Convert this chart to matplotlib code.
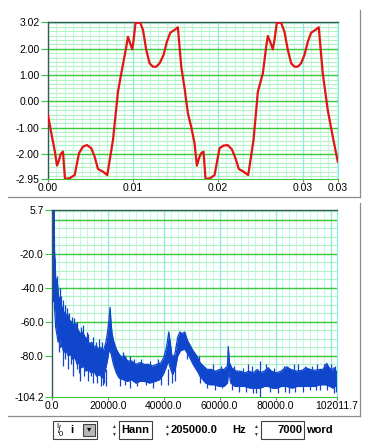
import matplotlib
matplotlib.use("Agg")
import matplotlib.pyplot as plt
import numpy as np
from matplotlib.lines import Line2D
from matplotlib.patches import Rectangle

plt.rcParams['font.family'] = ['Liberation Sans', 'DejaVu Sans']

# ---- waveform (time in s, amplitude) ----
wave_t = [0.0, 0.00039, 0.00078, 0.00106, 0.0013, 0.00149, 0.00176, 0.0020, 0.00255, 0.00314,
          0.00365, 0.00412, 0.00459, 0.0051, 0.00549, 0.00588, 0.00647, 0.00698, 0.00765, 0.00824,
          0.00863, 0.00922, 0.00941, 0.00961, 0.00992, 0.01008, 0.01031, 0.01086, 0.01118, 0.01157,
          0.01196, 0.01235, 0.01275, 0.01314, 0.01361, 0.0140, 0.01439, 0.0149, 0.01529, 0.01569,
          0.01608, 0.01647, 0.01686, 0.01725, 0.01753, 0.01784, 0.01804, 0.01831, 0.01855, 0.0191,
          0.01961, 0.0202, 0.02067, 0.02114, 0.02165, 0.02208, 0.02247, 0.02302, 0.02357, 0.0242,
          0.02471, 0.0253, 0.02569, 0.02588, 0.02616, 0.02647, 0.02667, 0.02694, 0.02745, 0.02784,
          0.02824, 0.02863, 0.02902, 0.02941, 0.0298, 0.0302, 0.03059, 0.03098, 0.03149, 0.03188,
          0.03235, 0.03294, 0.03353, 0.03412]
wave_v = [-0.52, -1.21, -1.85, -2.44, -2.23, -2.0, -1.91, -2.95, -2.92, -2.80,
          -1.97, -1.72, -1.66, -1.78, -2.10, -2.57, -2.67, -2.80, -1.47, 0.37,
          1.07, 2.08, 2.46, 2.27, 1.98, 2.34, 2.99, 2.99, 2.72, 1.96,
          1.45, 1.32, 1.32, 1.45, 1.77, 2.27, 2.61, 2.72, 2.82, 1.32,
          0.50, -0.45, -0.96, -1.59, -2.44, -2.10, -1.97, -1.91, -2.95, -2.92,
          -2.80, -1.78, -1.68, -1.66, -1.82, -2.17, -2.57, -2.67, -2.80, -1.47,
          0.37, 1.07, 2.08, 2.49, 2.27, 1.98, 2.34, 2.99, 2.99, 2.65,
          1.96, 1.45, 1.32, 1.32, 1.45, 1.77, 2.27, 2.61, 2.72, 2.82,
          1.07, -0.33, -1.34, -2.29]

t_ticks = [0.0, 0.01, 0.02, 0.03, 0.034146]
t_labels = ['0.00', '0.01', '0.02', '0.03', '0.03']
v_ticks = [3.02, 2.0, 1.0, 0.0, -1.0, -2.0, -2.95]
v_labels = ['3.02', '2.00', '1.00', '0.00', '-1.00', '-2.00', '-2.95']

# ---- spectrum band (Hz, dB): upper and lower edges of the noise ----
up_f = [0, 800, 900, 1000, 1100, 1300, 1600, 2000, 2300, 3000, 3500, 4200, 5000, 5500, 6200, 7000,
        7800, 8600, 9400, 10200, 11000, 11800, 12600, 13400, 14200, 15000, 15800, 16600, 17400,
        18400, 19200, 19800, 20300, 20800, 21100, 21500, 22000, 23000, 24000, 25000, 26000, 27000,
        28500, 30000, 31500, 33000, 34500, 36000, 37500, 39000, 40000, 41000, 41800, 42300, 43000,
        44000, 45000, 45800, 46500, 47500, 48500, 49500, 50500, 51800, 53000, 54200, 55500, 57000,
        58500, 60000, 61500, 62800, 63100, 63500, 64300, 66000, 67300, 69000, 70500, 72000, 73500,
        74500, 76000, 77400, 78500, 80400, 82000, 84000, 85500, 87600, 89500, 91000, 92300, 94000,
        95900, 97000, 98300, 99200, 100100, 101000, 102011.7]
up_v = [5.7, 5.7, -18, -22, -23, -34, -36, -38, -45, -47, -51, -54, -57, -55, -59, -60,
        -62, -61, -65, -67, -66, -69, -70, -73, -72, -75, -74, -76, -75,
        -77, -73, -67, -60, -51.5, -60, -67, -71, -76, -79, -81, -80, -83,
        -83, -85, -84, -85, -85, -86, -85, -84, -81, -75, -66, -72, -81,
        -79, -69, -66, -67, -66, -71, -74, -77, -80, -84, -86, -88, -88,
        -89, -88, -88, -86, -74.6, -84, -87, -89, -89, -90, -89, -90, -88,
        -90, -89, -87, -89, -90, -89, -86.4, -88, -89, -88.5, -87, -88, -88.5,
        -88, -88, -84.4, -87, -88.5, -87, -90]

lo_f = [0, 800, 900, 1100, 1300, 1600, 2200, 2600, 3000, 3600, 4200, 5000, 5800, 6600, 7400,
        8200, 9000, 9800, 10600, 11400, 12200, 13000, 14000, 15000, 16000, 17000, 18000, 19000,
        19800, 20500, 21200, 22000, 23000, 24000, 25500, 27000, 28500, 30000, 31500, 33000, 35000,
        37000, 38500, 39800, 40800, 41600, 42300, 43200, 44200, 45000, 46000, 47500, 49000, 50500,
        52000, 53500, 55000, 56500, 58000, 60000, 61500, 62800, 63200, 64000, 65500, 67300, 69000,
        71000, 72500, 74500, 76000, 77500, 79000, 80500, 82000, 84000, 86000, 87600, 89500, 91000,
        92300, 94000, 96000, 98000, 99500, 100500, 102011.7]
lo_v = [-48, -48, -52, -57, -63, -66, -72, -68, -75, -74, -78, -77, -80, -79, -82,
        -81, -85, -84, -87, -86, -89, -88, -90, -89, -92, -91, -93, -89,
        -83, -76, -79, -85, -90, -93, -94, -95, -94, -96, -95, -95, -96,
        -95, -94, -91, -87, -83, -87, -91, -87, -80, -77, -76, -80, -85,
        -89, -93, -96, -97, -97, -98, -98, -96, -89, -96, -98, -98, -98,
        -99, -99, -99, -98, -98, -99, -99, -98, -98, -99, -98, -98, -98,
        -98, -98, -97, -97, -98, -99, -97]

# single noise spikes sticking out of the band: frequency, bottom, top
spk_f = [1800, 2800, 3200, 4000, 4800, 5200, 6000, 7200, 8000, 9000, 10500, 11200, 12500, 13000,
         14600, 15800, 16900, 17800, 19000, 25500, 28000, 29500, 32000, 35000, 38000,
         52500, 57500, 60500, 65000, 68500, 70200, 71500, 74600, 76500, 79500, 83000, 86500,
         88000, 90500, 93000, 95000, 97500, 99800, 101200,
         2500, 3800, 4500, 5600, 6800, 7600, 8800, 9500, 10200, 11500, 12800, 13800, 14800,
         16200, 17400, 18200, 18700, 19400, 24500, 26000, 28000, 30500, 33500, 36000, 39000,
         41500, 43000, 44000, 48500, 53000, 55500, 58500, 61000, 64500, 67000, 69500, 72000,
         73000, 74400, 78000, 81000, 83500, 85000, 87000, 90000, 92500, 94500, 96000, 98500,
         100800, 101500]
spk_lo = [-44, -50, -54, -58, -60, -62, -64, -68, -68, -70, -74, -74, -76, -78,
          -80, -82, -82, -84, -84, -86, -88, -90, -90, -90, -90,
          -92, -95, -95, -95, -95, -95, -95, -95, -95, -95, -95, -95,
          -95, -95, -95, -95, -95, -95, -95,
          -78, -86, -82, -88, -85, -92, -88, -90, -95, -92, -95, -92, -96,
          -96, -98, -97, -96, -98, -98, -97, -99, -98, -97, -99, -97,
          -97, -96, -95, -82, -96, -99, -100, -99, -100, -101, -101, -102,
          -102, -104, -101, -102, -101, -102, -101, -101, -100, -100, -100, -100,
          -102, -101]
spk_hi = [-33, -40, -45, -47, -50, -52, -55, -57, -58, -60, -63, -62, -66, -67,
          -69, -72, -70, -72, -72, -78, -80, -82, -82, -83, -82,
          -80, -85, -86, -86, -87, -85, -86, -83, -85, -87, -86, -85,
          -85, -86, -86, -85, -85, -85, -86,
          -68, -74, -72, -76, -76, -80, -80, -82, -84, -84, -86, -86, -88,
          -88, -90, -90, -88, -88, -90, -90, -92, -92, -92, -92, -90,
          -88, -88, -86, -72, -88, -92, -94, -94, -94, -94, -94, -95,
          -95, -95, -94, -95, -94, -94, -94, -94, -93, -93, -93, -93,
          -94, -94]

f_ticks = [0, 20000, 40000, 60000, 80000, 102011.7]
f_labels = ['0.0', '20000.0', '40000.0', '60000.0', '80000.0', '102011.7']
db_ticks = [5.7, -20, -40, -60, -80, -104.2]
db_labels = ['5.7', '-20.0', '-40.0', '-60.0', '-80.0', '-104.2']

minor_h = '#b4f2c0'
major_h = '#3cc83c'
minor_v = '#bcfaf0'
major_v = '#86eee6'
frame = '#2e5a5a'
blue = '#1046cc'

fig = plt.figure(figsize=(3.73, 4.45), dpi=100)
fig.patch.set_facecolor('white')


def style(ax, xlim, ylim, xminor, yminor, ymajor, xmajor):
    ax.set_xlim(*xlim)
    ax.set_ylim(*ylim)
    for x in xminor:
        ax.axvline(x, color=minor_v, lw=0.8, zorder=0)
    for y in yminor:
        ax.axhline(y, color=minor_h, lw=0.8, zorder=0)
    for x in xmajor:
        ax.axvline(x, color=major_v, lw=0.9, zorder=0.5)
    for y in ymajor:
        ax.axhline(y, color=major_h, lw=1.0, zorder=0.5)
    for s in ['left', 'top']:
        ax.spines[s].set_color(frame)
        ax.spines[s].set_linewidth(1.0)
    ax.spines['right'].set_color(major_v)
    ax.spines['bottom'].set_color(major_h)
    ax.tick_params(axis='y', direction='out', length=5, color=major_h, pad=1, labelsize=7.5)
    ax.tick_params(axis='x', direction='out', length=2, color='#888888', pad=1, labelsize=7.5)


# top: time signal
ax1 = fig.add_axes([48/373, 1-179/445, 290/373, 157/445])
style(ax1, (0, 0.034146), (-2.95, 3.02),
      np.arange(0.001, 0.0342, 0.001), np.arange(-17, 19) / 6.0,
      [2, 1, 0, -1, -2], [0.01, 0.02, 0.03])
ax1.plot(wave_t, wave_v, color='#e41414', lw=1.6, zorder=3)
ax1.set_xticks(t_ticks)
ax1.set_xticklabels(t_labels)
ax1.set_yticks(v_ticks)
ax1.set_yticklabels(v_labels)

# bottom: spectrum
ax2 = fig.add_axes([52/373, 1-397/445, 285/373, 187/445])
style(ax2, (0, 102011.7), (-104.2, 5.7),
      np.arange(2500, 102000, 2500), np.arange(5, -105, -5),
      [0, -20, -40, -60, -80, -100], [20000, 40000, 60000, 80000, 100000])
ax2.fill_between(up_f, up_v, -200, color=blue, lw=0, zorder=2)
ax2.fill_between(lo_f, lo_v, -200, color='white', lw=0, zorder=2.1)
ax2.plot(up_f, up_v, color=blue, lw=0.9, zorder=3)
ax2.plot(lo_f, lo_v, color=blue, lw=0.9, zorder=3)
ax2.vlines(spk_f, spk_lo, spk_hi, color=blue, lw=0.9, zorder=3)
ax2.set_xticks(f_ticks)
ax2.set_xticklabels(f_labels)
ax2.set_yticks(db_ticks)
ax2.set_yticklabels(db_labels)


# panel frames (gray right/bottom edges)
def fx(px):
    return px / 373


def fy(py):
    return 1 - py / 445


gray = '#8c8c8c'
fig.add_artist(Line2D([fx(360), fx(360)], [fy(10), fy(197)], color=gray, lw=0.9))
fig.add_artist(Line2D([fx(8), fx(360)], [fy(197), fy(197)], color=gray, lw=0.9))
fig.add_artist(Line2D([fx(360), fx(360)], [fy(203), fy(416)], color=gray, lw=0.9))
fig.add_artist(Line2D([fx(8), fx(360)], [fy(416), fy(416)], color=gray, lw=0.9))


# control row
def box(x0, x1, y0=421, y1=439, fc='white'):
    fig.add_artist(Rectangle((fx(x0), fy(y1)), fx(x1) - fx(x0), fy(y0) - fy(y1),
                             facecolor=fc, edgecolor='#404040', lw=0.8))


def arrows(x):
    fig.text(fx(x), fy(426), '\u25b2', fontsize=3.5, ha='center', va='center', color='#333333')
    fig.text(fx(x), fy(434), '\u25bc', fontsize=3.5, ha='center', va='center', color='#333333')


ytxt = fy(430)
box(53, 97)
fig.text(fx(57), fy(426), 'I', fontsize=5.5, ha='center', va='center')
fig.text(fx(59), ytxt, '/', fontsize=7, ha='center', va='center')
fig.text(fx(61), fy(435), '0', fontsize=5.5, ha='center', va='center')
fig.text(fx(72), ytxt, 'i', fontsize=8, fontweight='bold', ha='center', va='center')
box(83, 95, 424, 436, fc='#b8b8b8')
fig.text(fx(89), ytxt, '\u25be', fontsize=6, ha='center', va='center')

arrows(113)
box(119, 152)
fig.text(fx(121), ytxt, 'Hann', fontsize=8, fontweight='bold', ha='left', va='center')

arrows(166)
fig.text(fx(171), ytxt, '205000.0', fontsize=8, fontweight='bold', ha='left', va='center')
fig.text(fx(232), ytxt, 'Hz', fontsize=8, fontweight='bold', ha='left', va='center')

arrows(255)
box(261, 304)
fig.text(fx(302), ytxt, '7000', fontsize=8, fontweight='bold', ha='right', va='center')
fig.text(fx(306), ytxt, 'word', fontsize=8, fontweight='bold', ha='left', va='center')

fig.savefig('out.png', dpi=100, facecolor='white')
